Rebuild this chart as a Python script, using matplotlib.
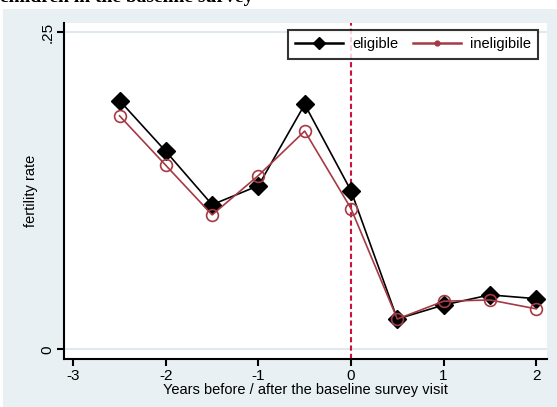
import matplotlib
matplotlib.use("Agg")
import matplotlib.pyplot as plt
from matplotlib.lines import Line2D

# fertility rate by year relative to the baseline visit
years = [-2.5, -2, -1.5, -1, -0.5, 0, 0.5, 1, 1.5, 2]
eligible = [0.196, 0.156, 0.114, 0.129, 0.193, 0.125, 0.024, 0.035, 0.043, 0.040]
ineligible = [0.184, 0.145, 0.106, 0.137, 0.172, 0.111, 0.024, 0.038, 0.039, 0.032]
xticks = [-3, -2, -1, 0, 1, 2]
yticks = [0, 0.25]
ytick_labels = ["0", ".25"]

bg = "#e8f0f3"
red = "#a53a44"
plt.rcParams["font.family"] = ["Liberation Sans", "DejaVu Sans"]

fig = plt.figure(figsize=(5.57, 4.07), dpi=100)
fig.patches.append(plt.Rectangle((0.005, 0), 0.995, 1 - 9 / 407, transform=fig.transFigure,
                                 facecolor=bg, edgecolor="none", zorder=-5))
fig.text(0.0, 1 - 2 / 407, "children in the baseline survey", fontsize=14, fontweight="bold",
         family="Liberation Serif", va="baseline", ha="left")

ax = fig.add_axes([64 / 557, 1 - 359 / 407, 483 / 557, 336 / 407])
ax.set_facecolor("white")
ax.set_xlim(-3.10, 2.117)
ax.set_ylim(-0.0075, 0.2571)

for y in yticks:
    ax.axhline(y, color="#dfe9ee", lw=1.5, zorder=0)
ax.axvline(0, color="#d0103a", lw=1.5, ls=(0, (2.5, 1.5)), zorder=1)

ax.plot(years, ineligible, color=red, lw=1.2, marker="o", ms=8.5, mfc="none",
        mec=red, mew=1.2, zorder=3)
ax.plot(years, eligible, color="black", lw=1.2, marker="D", ms=9, mfc="black",
        mec="black", zorder=2)

ax.set_xticks(xticks)
ax.set_xticklabels([str(t) for t in xticks])
ax.set_yticks(yticks)
ax.set_yticklabels(ytick_labels, rotation=90, va="center")
ax.tick_params(axis="both", direction="out", length=5, width=1.5, labelsize=11, pad=2)

for s in ["top", "right"]:
    ax.spines[s].set_visible(False)
for s in ["left", "bottom"]:
    ax.spines[s].set_linewidth(1.5)

ax.set_xlabel("Years before / after the baseline survey visit", fontsize=10.5, labelpad=0)
ax.set_ylabel("fertility rate", fontsize=10.5, labelpad=2)

handles = [
    Line2D([], [], color="black", lw=1.8, marker="D", ms=6, mfc="black"),
    Line2D([], [], color=red, lw=1.8, marker="o", ms=3.5, mfc=red, mec=red),
]
leg = ax.legend(handles, ["eligible", "ineligibile"], loc="upper right", ncol=2,
                bbox_to_anchor=(1 - 9 / 483, 1 - 7 / 336), frameon=True, fancybox=False,
                fontsize=10.5, handlelength=3.3, columnspacing=1.0, handletextpad=0.6,
                borderpad=0.5, borderaxespad=0)
leg.get_frame().set_edgecolor("black")
leg.get_frame().set_linewidth(1.5)

fig.savefig("out.png", dpi=100)
